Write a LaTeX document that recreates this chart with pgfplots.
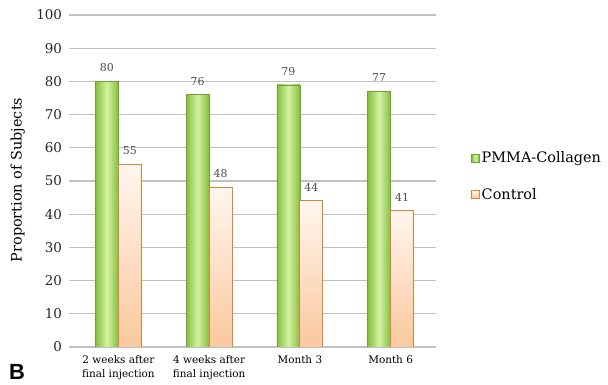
\documentclass[border=0pt]{standalone}
\usepackage{pgfplots}
\pgfplotsset{compat=1.18}
\usepackage{fontspec}
\setmainfont{DejaVu Serif}
\newfontfamily\labelsans{Liberation Sans}

\definecolor{gridgray}{RGB}{192,192,192}
\definecolor{gdark}{RGB}{132,190,62}
\definecolor{glight}{RGB}{212,242,162}
\definecolor{odraw}{RGB}{214,132,64}
\definecolor{otop}{RGB}{255,246,238}
\definecolor{obot}{RGB}{250,200,158}

\pgfplotsset{
  pmma/.style={ybar, bar width=23bp, bar shift=-11.5bp,
    draw=gdark!85!black, line width=0.4bp,
    left color=gdark, right color=gdark, middle color=glight,
    every node near coord/.append style={xshift=-11.5bp}},
  ctrl/.style={ybar, bar width=23bp, bar shift=11.5bp,
    draw=odraw, line width=1bp,
    top color=otop, bottom color=obot,
    every node near coord/.append style={xshift=11.5bp}},
}

\begin{document}
\begin{tikzpicture}
\useasboundingbox (-73bp,-38bp) rectangle (535bp,347bp);
\begin{axis}[
  at={(0,0)}, anchor=south west,
  scale only axis, width=363bp, height=332bp,
  xmin=0, xmax=4, ymin=0, ymax=100,
  axis x line*=bottom, axis y line*=left,
  x axis line style={gridgray, line width=1.2bp, -},
  y axis line style={draw=none},
  ytick={0,10,...,100},
  ymajorgrids,
  grid style={gridgray, line width=1.2bp},
  tick align=outside,
  ytick style={gridgray, line width=1.2bp},
  major tick length=3.5bp,
  xtick={0.5,1.5,2.5,3.5},
  xtick style={draw=none},
  xticklabels={{2 weeks after\\final injection},{4 weeks after\\final injection},{Month 3},{Month 6}},
  xticklabel style={align=center, font=\fontsize{10.5}{14}\selectfont, yshift=-2bp},
  extra x ticks={0,1,2,3,4},
  extra x tick labels={},
  extra x tick style={xtick style={gridgray, line width=1.2bp}, major tick length=5bp},
  yticklabel style={font=\fontsize{13.5}{13.5}\selectfont, text=black!85, xshift=-4bp},
  /pgf/number format/assume math mode=true,
  ylabel={Proportion of Subjects},
  ylabel style={at={(axis description cs:-0.152,0.503)}, anchor=center,
    font=\fontsize{14.5}{14.5}\selectfont},
  nodes near coords,
  every node near coord/.append style={font=\fontsize{11}{11}\selectfont,
    text=black!70, yshift=6bp},
  legend style={draw=none, fill=none, at={(1.088,0.60)}, anchor=north west,
    font=\fontsize{14.5}{14.5}\selectfont, row sep=20bp,
    cells={anchor=west}},
  legend image code/.code={\draw[#1, line width=0.6bp] (0bp,-4bp) rectangle (8bp,4bp);},
]
% PMMA-Collagen
\addplot[pmma] coordinates {(0.5,80)};
\addplot[pmma, forget plot] coordinates {(1.5,76)};
\addplot[pmma, forget plot] coordinates {(2.5,79)};
\addplot[pmma, forget plot] coordinates {(3.5,77)};
% Control
\addplot[ctrl] coordinates {(0.5,55)};
\addplot[ctrl, forget plot] coordinates {(1.5,48)};
\addplot[ctrl, forget plot] coordinates {(2.5,44)};
\addplot[ctrl, forget plot] coordinates {(3.5,41)};
\legend{PMMA-Collagen, Control}
\end{axis}
\node[font=\labelsans\bfseries\fontsize{22}{22}\selectfont] at (-56bp,-25bp) {B};
\end{tikzpicture}
\end{document}
